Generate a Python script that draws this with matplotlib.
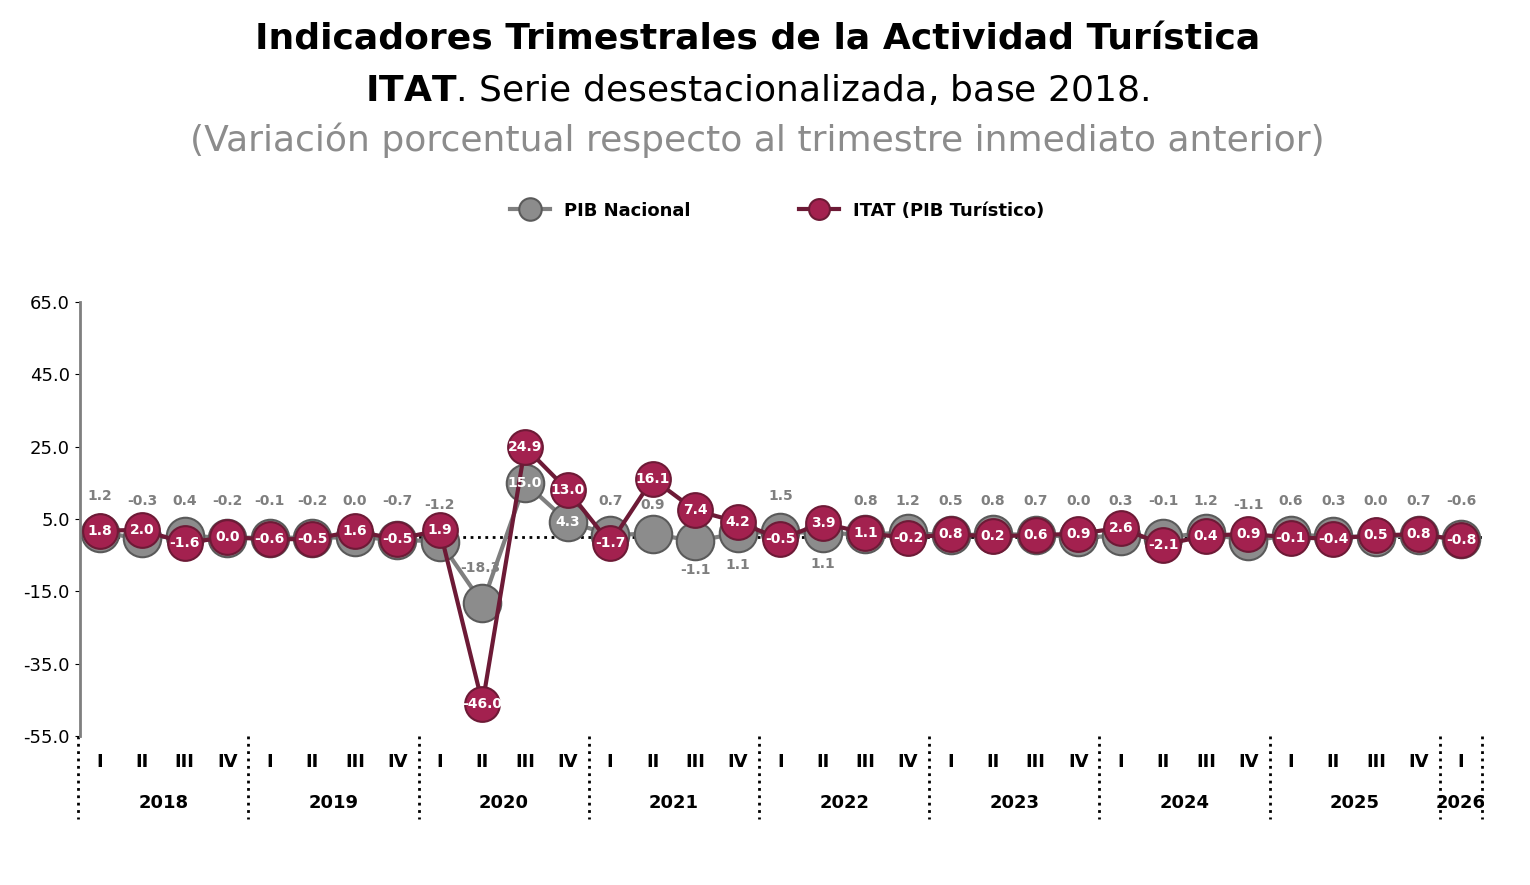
import numpy as np
import matplotlib.pyplot as plt
import matplotlib.transforms as transforms

# Variacion porcentual trimestral, series desestacionalizadas
pib = [1.2, -0.3, 0.4, -0.2, -0.1, -0.2, 0.0, -0.7, -1.2, -18.3, 15.0, 4.3,
       0.7, 0.9, -1.1, 1.1, 1.5, 1.1, 0.8, 1.2, 0.5, 0.8, 0.7, 0.0,
       0.3, -0.1, 1.2, -1.1, 0.6, 0.3, 0.0, 0.7, -0.6]
itat = [1.8, 2.0, -1.6, 0.0, -0.6, -0.5, 1.6, -0.5, 1.9, -46.0, 24.9, 13.0,
        -1.7, 16.1, 7.4, 4.2, -0.5, 3.9, 1.1, -0.2, 0.8, 0.2, 0.6, 0.9,
        2.6, -2.1, 0.4, 0.9, -0.1, -0.4, 0.5, 0.8, -0.8]
years = ['2018', '2019', '2020', '2021', '2022', '2023', '2024', '2025', '2026']
quarters = ['I', 'II', 'III', 'IV']

x = np.arange(len(pib))
grey = '#7f7f7f'
wine = '#a3214f'
line_wine = '#6d1a36'

fig = plt.figure(figsize=(15.3, 8.85), dpi=100)
ax = fig.add_axes([0.052, 0.168, 0.918, 0.491])

ax.axhline(0, color='black', ls=':', lw=2, zorder=1)
ax.plot(x, pib, color=grey, lw=3, marker='o', ms=27, mfc='#8c8c8c', mec='#5a5a5a',
        mew=1.5, zorder=2, label='PIB Nacional')
ax.plot(x, itat, color=line_wine, lw=3, marker='o', ms=25, mfc=wine, mec=line_wine,
        mew=1.5, zorder=3, label='ITAT (PIB Turístico)')

# etiquetas de ITAT dentro de los marcadores
for i, v in enumerate(itat):
    ax.text(i, v, f'{v:.1f}', ha='center', va='center', color='white',
            fontsize=10, fontweight='bold', zorder=4)

# etiquetas del PIB a altura fija, con algunas excepciones
inside = {10, 11}
special = {9: (-0.05, -8.5), 13: (0.0, 9.0), 14: (0.0, -9.2),
           15: (0.0, -7.8), 17: (0.0, -7.3), 8: (0.0, 8.8), 27: (0.0, 8.8)}
for i, v in enumerate(pib):
    if i in inside:
        ax.text(i, v, f'{v:.1f}', ha='center', va='center', color='white',
                fontsize=10, fontweight='bold', zorder=4)
        continue
    dx, ty = special.get(i, (0.0, 10.0))
    if i in (0, 16):
        ty = 11.5
    ax.text(i + dx, ty, f'{v:.1f}', ha='center', va='center', color=grey,
            fontsize=10, fontweight='bold', zorder=4)

ax.set_ylim(-55, 65)
ax.set_xlim(-0.47, 32.54)
ax.set_yticks(np.arange(-55, 66, 20))
ax.set_yticklabels([f'{t:.1f}' for t in np.arange(-55, 66, 20)], fontsize=13)
ax.set_xticks([])
for s in ['top', 'right', 'bottom']:
    ax.spines[s].set_visible(False)
ax.spines['left'].set_color('#7f7f7f')
ax.spines['left'].set_linewidth(2)

# eje de categorias: trimestres y anios
trans = transforms.blended_transform_factory(ax.transData, ax.transAxes)
for i in x:
    ax.text(i, -0.06, quarters[i % 4], transform=trans, ha='center', va='center',
            fontsize=13, fontweight='bold')
for k, yr in enumerate(years):
    start = 4 * k
    end = min(4 * k + 3, len(x) - 1)
    ax.text((start + end) / 2, -0.154, yr, transform=trans, ha='center', va='center',
            fontsize=13, fontweight='bold')
for b in [-0.5 + 4 * k for k in range(9)] + [32.5]:
    ax.plot([b, b], [0, -0.19], transform=trans, color='black', ls=':', lw=2,
            clip_on=False)

fig.text(0.495, 0.955, 'Indicadores Trimestrales de la Actividad Turística',
         ha='center', va='center', fontsize=26, fontweight='heavy')
fig.text(0.495, 0.898, r'$\bf{ITAT}$. Serie desestacionalizada, base 2018.',
         ha='center', va='center', fontsize=26)
fig.text(0.495, 0.842, '(Variación porcentual respecto al trimestre inmediato anterior)',
         ha='center', va='center', fontsize=26, color='#8c8c8c')

fig.legend(loc='center', bbox_to_anchor=(0.508, 0.762), ncol=2, frameon=False,
           markerscale=0.6, handlelength=2.2, columnspacing=6,
           prop={'weight': 'bold', 'size': 13})

fig.savefig('out.png', dpi=100)
